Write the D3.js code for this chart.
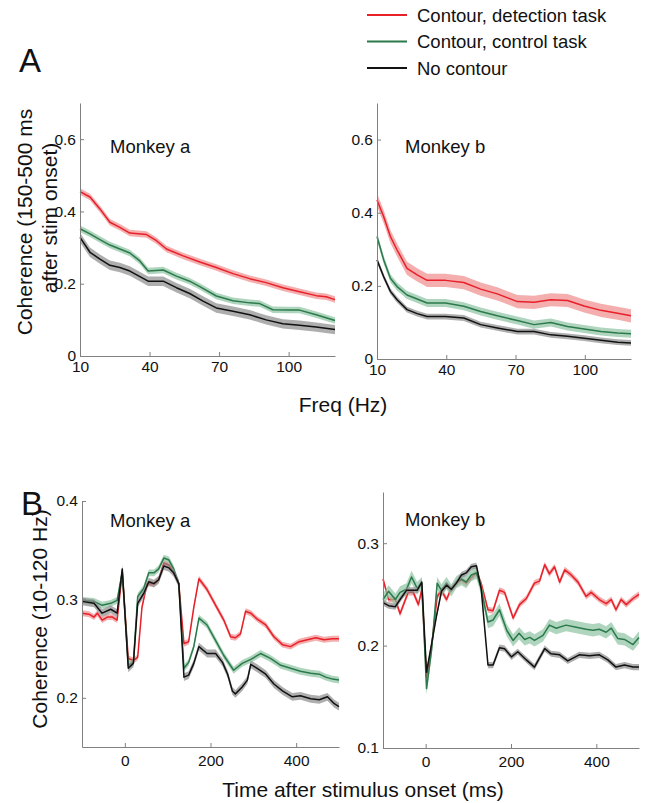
<!DOCTYPE html>
<html>
<head>
<meta charset="utf-8">
<script src="https://cdn.jsdelivr.net/npm/d3@7"></script>
<style>
  body { margin: 0; background: #fff; }
  text { font-family: "Liberation Sans", Arial, Helvetica, sans-serif; fill: #111; }
</style>
</head>
<body>
<svg id="fig" width="645" height="803"></svg>
<script>
// series order: detection (red), control (green), no contour (black)
const seriesNames = ["Contour, detection task", "Contour, control task", "No contour"];

const freqTicks = [10, 40, 70, 100];
const cohTicksA = [0, 0.2, 0.4, 0.6];
const timeTicks = [0, 200, 400];
const cohTicksBa = [0.2, 0.3, 0.4];
const cohTicksBb = [0.1, 0.2, 0.3];

// A, monkey a : [freq Hz, coherence]
const aA_red = [[10,.455],[14.3,.44],[18.6,.407],[22.9,.37],[27.2,.356],[31.5,.34],[38.7,.336],[43,.319],[47.3,.296],[54.5,.277],[61.7,.26],[68.8,.245],[76,.228],[83.2,.214],[90.3,.203],[97.5,.189],[104.7,.178],[111.9,.167],[116.2,.164],[120,.156]];
const aA_green = [[10,.352],[14.3,.338],[18.6,.322],[22.9,.307],[27.2,.296],[31.5,.285],[35.8,.263],[39.4,.235],[45.9,.238],[51.6,.221],[57.3,.207],[61.7,.192],[68.8,.166],[76,.153],[83.2,.147],[87.5,.145],[93.2,.128],[100.4,.127],[104.7,.127],[111.9,.114],[120,.098]];
const aA_black = [[10,.328],[14.3,.287],[18.6,.268],[22.9,.251],[27.2,.245],[31.5,.235],[39.4,.207],[45.9,.207],[51.6,.189],[57.3,.173],[63.1,.152],[68.8,.133],[76,.124],[83.2,.114],[90.3,.1],[97.5,.089],[104.7,.085],[111.9,.08],[120,.073]];
const aA_sem = [0.009, 0.009, 0.013];

// A, monkey b
const aB_red = [[10,.435],[12.9,.389],[15.8,.335],[18.7,.298],[23,.248],[27.4,.23],[31.7,.215],[39.7,.215],[47.6,.209],[54.9,.191],[62.1,.178],[70.8,.157],[78,.155],[85.3,.162],[92.5,.16],[99.7,.145],[107,.133],[114.2,.125],[120,.118]];
const aB_green = [[10,.335],[12.9,.271],[15.8,.221],[18.7,.198],[23,.175],[27.4,.164],[31.7,.153],[39.7,.153],[47.6,.144],[54.9,.13],[62.1,.118],[70.8,.105],[78,.094],[85.3,.1],[92.5,.089],[99.7,.082],[107,.075],[114.2,.071],[120,.069]];
const aB_black = [[10,.271],[12.9,.225],[15.8,.185],[18.7,.162],[23,.135],[27.4,.124],[31.7,.116],[39.7,.116],[47.6,.112],[54.9,.094],[62.1,.085],[70.8,.075],[78,.075],[85.3,.066],[92.5,.062],[99.7,.057],[107,.051],[114.2,.046],[120,.044]];
const aB_sem = [0.018, 0.011, 0.008];

// B, monkey a : [time ms, coherence]
const bA_red = [[-100,.286],[-84,.285],[-72,.282],[-64,.286],[-53,.279],[-41,.282],[-29,.282],[-18,.279],[-6,.328],[8,.24],[20,.238],[30,.241],[40,.292],[52,.316],[68,.316],[79,.32],[91,.337],[103,.335],[114,.328],[126,.316],[138,.255],[149,.257],[161,.292],[173,.321],[192,.31],[212,.294],[231,.279],[247,.262],[258,.261],[270,.265],[282,.288],[294,.286],[309,.28],[329,.274],[348,.262],[368,.254],[387,.252],[407,.257],[426,.259],[446,.261],[465,.259],[485,.26],[500,.26]];
const bA_green = [[-100,.299],[-72,.298],[-53,.294],[-33,.296],[-18,.299],[-6,.328],[8,.233],[20,.236],[30,.303],[44,.311],[56,.327],[68,.327],[79,.331],[91,.342],[103,.34],[114,.331],[126,.316],[138,.23],[149,.236],[161,.252],[173,.281],[192,.274],[212,.258],[231,.243],[254,.228],[274,.235],[294,.239],[317,.245],[340,.24],[364,.233],[387,.23],[410,.227],[434,.225],[454,.224],[469,.221],[485,.219],[500,.218]];
const bA_black = [[-100,.298],[-72,.296],[-53,.286],[-33,.29],[-18,.286],[-6,.331],[8,.23],[20,.235],[30,.296],[44,.306],[56,.318],[68,.316],[79,.32],[91,.334],[103,.332],[114,.327],[126,.316],[138,.221],[149,.223],[161,.235],[173,.252],[192,.245],[212,.245],[228,.236],[240,.224],[251,.207],[258,.204],[274,.211],[286,.218],[294,.234],[309,.23],[329,.224],[348,.214],[368,.207],[391,.201],[410,.202],[434,.199],[454,.198],[473,.201],[489,.194],[500,.191]];
const bA_sem = [0.003, 0.0035, 0.004];

// B, monkey b
const bB_red = [[-100,.265],[-87,.245],[-71,.245],[-60,.231],[-41,.252],[-29,.252],[-17,.24],[-9,.255],[2,.169],[14,.2],[27,.248],[37,.254],[49,.245],[58,.254],[72,.261],[84,.264],[95,.261],[107,.266],[119,.271],[130,.261],[146,.235],[158,.234],[173,.254],[185,.252],[205,.227],[220,.24],[236,.246],[255,.261],[267,.263],[279,.279],[290,.27],[302,.277],[314,.262],[326,.274],[341,.269],[357,.262],[376,.248],[388,.252],[407,.245],[423,.241],[435,.245],[446,.235],[458,.245],[470,.24],[486,.246],[500,.25]];
const bB_green = [[-100,.245],[-87,.253],[-71,.245],[-60,.252],[-45,.255],[-33,.267],[-20,.256],[-9,.261],[2,.158],[14,.196],[27,.261],[37,.254],[49,.261],[60,.254],[72,.262],[84,.265],[95,.262],[107,.269],[119,.271],[130,.256],[146,.223],[158,.225],[173,.235],[190,.215],[205,.205],[219,.212],[232,.206],[244,.208],[255,.205],[275,.21],[290,.22],[306,.217],[329,.22],[353,.218],[376,.216],[392,.215],[407,.216],[423,.213],[435,.217],[450,.207],[466,.206],[486,.201],[500,.208]];
const bB_black = [[-100,.242],[-87,.239],[-71,.238],[-60,.245],[-45,.254],[-29,.254],[-20,.254],[-9,.262],[2,.174],[14,.202],[25,.228],[37,.253],[49,.259],[60,.255],[72,.261],[84,.269],[95,.271],[107,.277],[119,.278],[130,.256],[146,.181],[158,.181],[173,.198],[185,.197],[201,.189],[216,.194],[236,.186],[255,.179],[279,.197],[294,.192],[314,.191],[333,.185],[360,.191],[384,.19],[407,.191],[427,.186],[446,.179],[466,.181],[486,.179],[500,.179]];
const bB_sem = [0.003, 0.006, 0.003];

const lineColors = ["#e8202a", "#2b7a4b", "#111111"];
const bandColors = ["#f08c8c", "#8ec3a2", "#8c8c8c"];

const svg = d3.select("#fig");

function fmt(d) { return d === 0 ? "0" : d3.format(".1f")(d); }

function panel(p) {
  const x = d3.scaleLinear().domain(p.xDomain).range([p.left, p.right]);
  const y = d3.scaleLinear().domain(p.yDomain).range([p.bottom, p.top]);
  const g = svg.append("g");

  // bands + lines, red first so black sits on top
  p.series.forEach(function(data, i) {
    const s = p.sem[i];
    g.append("path")
      .datum(data)
      .attr("fill", bandColors[i])
      .attr("fill-opacity", 0.7)
      .attr("d", d3.area()
        .x(function(d) { return x(d[0]); })
        .y0(function(d) { return y(d[1] - s); })
        .y1(function(d) { return y(d[1] + s); }));
    g.append("path")
      .datum(data)
      .attr("fill", "none")
      .attr("stroke", lineColors[i])
      .attr("stroke-width", 1.5)
      .attr("stroke-linejoin", "round")
      .attr("d", d3.line()
        .x(function(d) { return x(d[0]); })
        .y(function(d) { return y(d[1]); }));
  });

  const xa = g.append("g")
    .attr("transform", "translate(0," + p.bottom + ")")
    .call(d3.axisBottom(x).tickValues(p.xTicks).tickSizeInner(-4).tickSizeOuter(0).tickPadding(p.xPad));
  const ya = g.append("g")
    .attr("transform", "translate(" + p.left + ",0)")
    .call(d3.axisLeft(y).tickValues(p.yTicks).tickSizeInner(-4).tickSizeOuter(0).tickPadding(4).tickFormat(fmt));
  [xa, ya].forEach(function(a) {
    a.select(".domain").attr("stroke", "#808080");
    a.selectAll(".tick line").attr("stroke", "#808080");
    a.selectAll(".tick text").style("font-size", "15.5px").attr("fill", "#111");
  });

  g.append("text")
    .attr("x", p.titleX).attr("y", p.titleY)
    .style("font-size", "18.5px")
    .text(p.title);
}

// panel A
panel({ xDomain: [10, 120], yDomain: [0, 0.7], left: 80, right: 335, top: 103, bottom: 356,
  xTicks: freqTicks, yTicks: cohTicksA, xPad: 5, sem: aA_sem,
  series: [aA_red, aA_green, aA_black], title: "Monkey a", titleX: 110, titleY: 153 });
panel({ xDomain: [10, 120], yDomain: [0, 0.7], left: 377, right: 631, top: 103, bottom: 359,
  xTicks: freqTicks, yTicks: cohTicksA, xPad: 5, sem: aB_sem,
  series: [aB_red, aB_green, aB_black], title: "Monkey b", titleX: 405, titleY: 153 });

// panel B
panel({ xDomain: [-100, 500], yDomain: [0.15, 0.4], left: 82, right: 339, top: 501, bottom: 747,
  xTicks: timeTicks, yTicks: cohTicksBa, xPad: 8, sem: bA_sem,
  series: [bA_red, bA_green, bA_black], title: "Monkey a", titleX: 110, titleY: 527 });
panel({ xDomain: [-100, 500], yDomain: [0.1, 0.35], left: 383, right: 639, top: 492, bottom: 748,
  xTicks: timeTicks, yTicks: cohTicksBb, xPad: 8, sem: bB_sem,
  series: [bB_red, bB_green, bB_black], title: "Monkey b", titleX: 405, titleY: 526 });

// panel letters
svg.append("text").attr("x", 19).attr("y", 72).style("font-size", "33px").text("A");
svg.append("text").attr("x", 21).attr("y", 515).style("font-size", "33px").text("B");

// axis titles
svg.append("text")
  .attr("transform", "translate(32,222) rotate(-90)")
  .attr("text-anchor", "middle").style("font-size", "21px")
  .text("Coherence (150-500 ms");
svg.append("text")
  .attr("transform", "translate(57,218) rotate(-90)")
  .attr("text-anchor", "middle").style("font-size", "21px")
  .text("after stim onset)");
svg.append("text")
  .attr("x", 343).attr("y", 412)
  .attr("text-anchor", "middle").style("font-size", "21px")
  .text("Freq (Hz)");
svg.append("text")
  .attr("transform", "translate(47,619) rotate(-90)")
  .attr("text-anchor", "middle").style("font-size", "21px")
  .text("Coherence (10-120 Hz)");
svg.append("text")
  .attr("x", 363).attr("y", 797)
  .attr("text-anchor", "middle").style("font-size", "21px")
  .text("Time after stimulus onset (ms)");

// legend
const legend = svg.append("g");
seriesNames.forEach(function(name, i) {
  const ly = 15 + i * 26.5;
  legend.append("line")
    .attr("x1", 367).attr("x2", 407).attr("y1", ly).attr("y2", ly)
    .attr("stroke", lineColors[i]).attr("stroke-width", 2);
  legend.append("text")
    .attr("x", 417).attr("y", ly + 6.5)
    .style("font-size", "18.5px")
    .text(name);
});
</script>
</body>
</html>
